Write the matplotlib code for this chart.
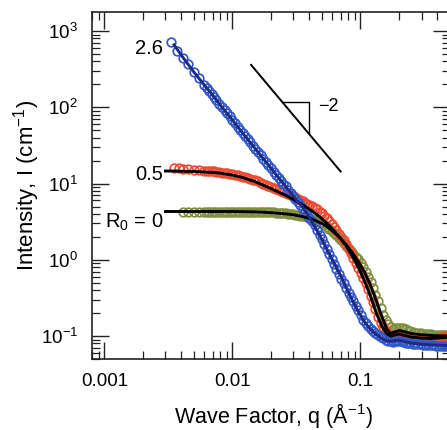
import matplotlib
matplotlib.use("Agg")
import matplotlib.pyplot as plt
from matplotlib.ticker import LogLocator, FixedLocator, FixedFormatter, NullFormatter

plt.rcParams['font.family'] = ['Liberation Sans', 'DejaVu Sans']
plt.rcParams['mathtext.fontset'] = 'custom'
plt.rcParams['mathtext.rm'] = 'Liberation Sans'
plt.rcParams['mathtext.it'] = 'Liberation Sans:italic'
plt.rcParams['mathtext.bf'] = 'Liberation Sans:bold'

# ---------------- data ----------------
q_data = [0.0033, 0.0037, 0.0041, 0.0045, 0.0050, 0.0055, 0.0060, 0.0063, 0.0066, 0.0069,
          0.0072, 0.0075, 0.0079, 0.0083, 0.0087, 0.0091, 0.0095, 0.0100, 0.0105, 0.0110,
          0.0115, 0.0120, 0.0126, 0.0132, 0.0138, 0.0145, 0.0151, 0.0158, 0.0166, 0.0174,
          0.0182, 0.0191, 0.0200, 0.0210, 0.0220, 0.0230, 0.0240, 0.0250, 0.0260, 0.0272,
          0.0285, 0.0298, 0.0310, 0.0325, 0.034, 0.0355, 0.037, 0.0385, 0.040, 0.042,
          0.044, 0.046, 0.048, 0.050, 0.052, 0.0545, 0.057, 0.0595, 0.062, 0.065,
          0.068, 0.071, 0.074, 0.0775, 0.081, 0.0845, 0.088, 0.092, 0.096, 0.1005,
          0.105, 0.110, 0.115, 0.120, 0.125, 0.131, 0.137, 0.1435, 0.150, 0.157,
          0.164, 0.172, 0.180, 0.188, 0.197, 0.206, 0.215, 0.225, 0.235, 0.246,
          0.257, 0.268, 0.28, 0.295, 0.31, 0.325, 0.34, 0.355, 0.37, 0.39,
          0.41, 0.43, 0.45, 0.47, 0.49]

q_blue = q_data
I_blue = [720, 551, 444, 365, 292, 239, 199, 180, 163, 149,
          136, 124, 112, 101, 91.4, 83.3, 76.0, 68.3, 61.5, 55.8,
          50.8, 46.3, 42.0, 38.1, 34.7, 31.2, 28.7, 26.0, 23.5, 21.3,
          19.4, 17.5, 15.9, 14.3, 13.0, 11.8, 10.8, 9.95, 9.16, 8.33,
          7.57, 6.89, 6.34, 5.70, 5.16, 4.69, 4.27, 3.90, 3.57, 3.18,
          2.82, 2.45, 2.11, 1.85, 1.61, 1.38, 1.19, 1.03, 0.894, 0.76,
          0.654, 0.565, 0.492, 0.425, 0.366, 0.322, 0.284, 0.248, 0.217, 0.189,
          0.164, 0.148, 0.135, 0.125, 0.117, 0.109, 0.103, 0.098, 0.093, 0.090,
          0.087, 0.085, 0.084, 0.085, 0.085, 0.085, 0.084, 0.082, 0.081, 0.080,
          0.079, 0.079, 0.078, 0.078, 0.077, 0.077, 0.076, 0.076, 0.076, 0.075,
          0.075, 0.075, 0.075, 0.074, 0.074]

q_red = [0.0035, 0.0038] + q_data[2:]
I_red = [16.0, 15.8, 15.6, 15.4, 15.2, 15.0, 14.8, 14.7, 14.6, 14.5,
         14.4, 14.25, 14.1, 13.95, 13.8, 13.6, 13.4, 13.2, 13.0, 12.8,
         12.6, 12.35, 12.1, 11.85, 11.6, 11.3, 11.0, 10.65, 10.3, 10.0,
         9.7, 9.4, 9.1, 8.8, 8.5, 8.25, 8.0, 7.75, 7.5, 7.25,
         7.0, 6.8, 6.6, 6.35, 6.1, 5.85, 5.6, 5.4, 5.2, 5.05,
         4.85, 4.6, 4.3, 4.05, 3.8, 3.5, 3.2, 2.95, 2.7, 2.45,
         2.2, 2.0, 1.8, 1.6, 1.4, 1.22, 1.05, 0.91, 0.78, 0.67,
         0.57, 0.49, 0.41, 0.34, 0.28, 0.225, 0.18, 0.15, 0.13, 0.117,
         0.108, 0.102, 0.100, 0.102, 0.103, 0.102, 0.100, 0.098, 0.097, 0.096,
         0.095, 0.095, 0.094, 0.094, 0.093, 0.093, 0.093, 0.093, 0.094, 0.094,
         0.095, 0.096, 0.097, 0.098, 0.100]

q_green = q_data[2:]
I_green = [4.25, 4.3, 4.3, 4.3, 4.3, 4.3, 4.3, 4.3, 4.3, 4.3,
           4.3, 4.3, 4.3, 4.3, 4.3, 4.3, 4.3, 4.3, 4.3, 4.3,
           4.3, 4.3, 4.3, 4.29, 4.28, 4.27, 4.26, 4.25, 4.23, 4.22,
           4.2, 4.18, 4.15, 4.12, 4.1, 4.07, 4.05, 4.02, 3.98, 3.94,
           3.9, 3.85, 3.8, 3.75, 3.7, 3.62, 3.55, 3.45, 3.35, 3.22,
           3.1, 3.0, 2.9, 2.72, 2.55, 2.4, 2.25, 2.1, 1.95, 1.8,
           1.65, 1.52, 1.4, 1.3, 1.2, 1.1, 1.02, 0.91, 0.80, 0.70,
           0.60, 0.51, 0.43, 0.35, 0.29, 0.23, 0.19, 0.163, 0.145, 0.133,
           0.125, 0.126, 0.128, 0.128, 0.126, 0.122, 0.118, 0.115, 0.113, 0.111,
           0.110, 0.108, 0.107, 0.106, 0.105, 0.105, 0.104, 0.104, 0.103, 0.103,
           0.103, 0.103, 0.103]

# model fits
q_fit = [0.003, 0.0035, 0.004, 0.005, 0.006, 0.007, 0.008, 0.01, 0.012, 0.015,
         0.018, 0.022, 0.026, 0.03, 0.035, 0.04, 0.045, 0.05, 0.056, 0.063,
         0.07, 0.078, 0.087, 0.097, 0.108, 0.12, 0.133, 0.147, 0.16, 0.172,
         0.185, 0.2, 0.22, 0.25, 0.3, 0.35, 0.4, 0.5]
fit_blue = [None, 660, 480, 290, 198, 145, 108, 68, 46, 29,
            19.8, 13.0, 9.2, 6.8, 5.0, 3.6, 2.55, 1.85, 1.27, 0.87,
            0.62, 0.42, 0.29, 0.205, 0.152, 0.122, 0.105, 0.093, 0.087, 0.085,
            0.087, 0.088, 0.085, 0.081, 0.078, 0.077, 0.076, 0.075]
fit_red = [14.6, 14.6, 14.5, 14.4, 14.2, 14.0, 13.7, 12.9, 12.0, 10.6,
           9.3, 8.0, 7.0, 6.2, 5.3, 4.6, 4.0, 3.45, 2.9, 2.35,
           1.9, 1.48, 1.1, 0.78, 0.52, 0.33, 0.20, 0.135, 0.108, 0.100,
           0.103, 0.106, 0.102, 0.097, 0.094, 0.093, 0.094, 0.097]
fit_green = [4.3, 4.3, 4.3, 4.3, 4.3, 4.3, 4.3, 4.3, 4.28, 4.25,
             4.2, 4.1, 4.0, 3.9, 3.7, 3.5, 3.25, 3.0, 2.65, 2.25,
             1.9, 1.55, 1.22, 0.93, 0.68, 0.46, 0.29, 0.18, 0.125, 0.108,
             0.113, 0.118, 0.114, 0.108, 0.104, 0.102, 0.101, 0.100]

series_labels = ["2.6", "0.5", "R$_0$ = 0"]
x_ticks = [0.001, 0.01, 0.1, 1.0]
x_ticklabels = ["0.001", "0.01", "0.1", "1"]
slope_q = [0.014, 0.07]
slope_I = [360, 14.4]
tri_q = [0.0246, 0.0393, 0.0393]
tri_I = [117, 117, 45.7]

# ---------------- figure ----------------
fig = plt.figure(figsize=(4.47, 4.30), dpi=100)
ax = fig.add_axes([92 / 447, 71 / 430, 357.9 / 447, 347.4 / 430])
ax.set_xscale('log')
ax.set_yscale('log')

c_blue = '#3358c8'
c_red = '#ee4a32'
c_green = '#7f8f3c'
c_bfit = '#1c2a8a'

ms = 6.2
mew = 1.25
ax.plot(q_green, I_green, 'o', mfc='none', mec=c_green, ms=ms, mew=mew, zorder=2)
ax.plot(q_red, I_red, 'o', mfc='none', mec=c_red, ms=ms, mew=mew, zorder=2)
ax.plot(q_blue, I_blue, 'o', mfc='none', mec=c_blue, ms=ms, mew=mew, zorder=3)

qb = [q for q, v in zip(q_fit, fit_blue) if v is not None]
vb = [v for v in fit_blue if v is not None]
ax.plot(q_fit, fit_green, '-', color='black', lw=2.1, zorder=4)
ax.plot(q_fit, fit_red, '-', color='black', lw=2.1, zorder=4)
ax.plot(qb, vb, '-', color=c_bfit, lw=2.1, zorder=5)

# slope guide
ax.plot(slope_q, slope_I, '-', color='black', lw=1.4, zorder=6)
ax.plot(tri_q, tri_I, '-', color='black', lw=1.0, zorder=6)
ax.text(0.047, 103, "\u22122", fontsize=13, ha='left', va='center')

# labels for series
ax.text(0.00285, 598, series_labels[0], fontsize=14.5, ha='right', va='center')
ax.text(0.00285, 13.1, series_labels[1], fontsize=14.5, ha='right', va='center')
ax.text(0.00287, 2.64, series_labels[2], fontsize=14.5, ha='right', va='baseline')

ax.set_xlim(0.0008, 0.5)
ax.set_ylim(0.05, 1800)

ax.xaxis.set_major_locator(FixedLocator(x_ticks))
ax.xaxis.set_major_formatter(FixedFormatter(x_ticklabels))
ax.xaxis.set_minor_locator(LogLocator(base=10, subs=[2, 3, 4, 5, 6, 7, 8, 9], numticks=20))
ax.xaxis.set_minor_formatter(NullFormatter())
ax.yaxis.set_major_locator(LogLocator(base=10, numticks=20))
ax.yaxis.set_minor_locator(LogLocator(base=10, subs=[2, 3, 4, 5, 6, 7, 8, 9], numticks=20))
ax.yaxis.set_minor_formatter(NullFormatter())

ax.tick_params(which='both', direction='in', top=True, right=True, colors='#222222',
               labelcolor='black')
ax.tick_params(which='major', length=12, width=1.0, labelsize=13.5, pad=10)
ax.tick_params(which='minor', length=6, width=0.9)
for s in ax.spines.values():
    s.set_linewidth(1.2)
    s.set_color('#222222')

fig.text(273 / 447, 1 - 415 / 430, "Wave Factor, q (\u00c5$^{-1}$)", fontsize=15.5,
         ha='center', va='center')
fig.text(27 / 447, 1 - 185 / 430, "Intensity, I (cm$^{-1}$)", fontsize=16,
         ha='center', va='center', rotation=90)

fig.savefig("out.png", dpi=100)
